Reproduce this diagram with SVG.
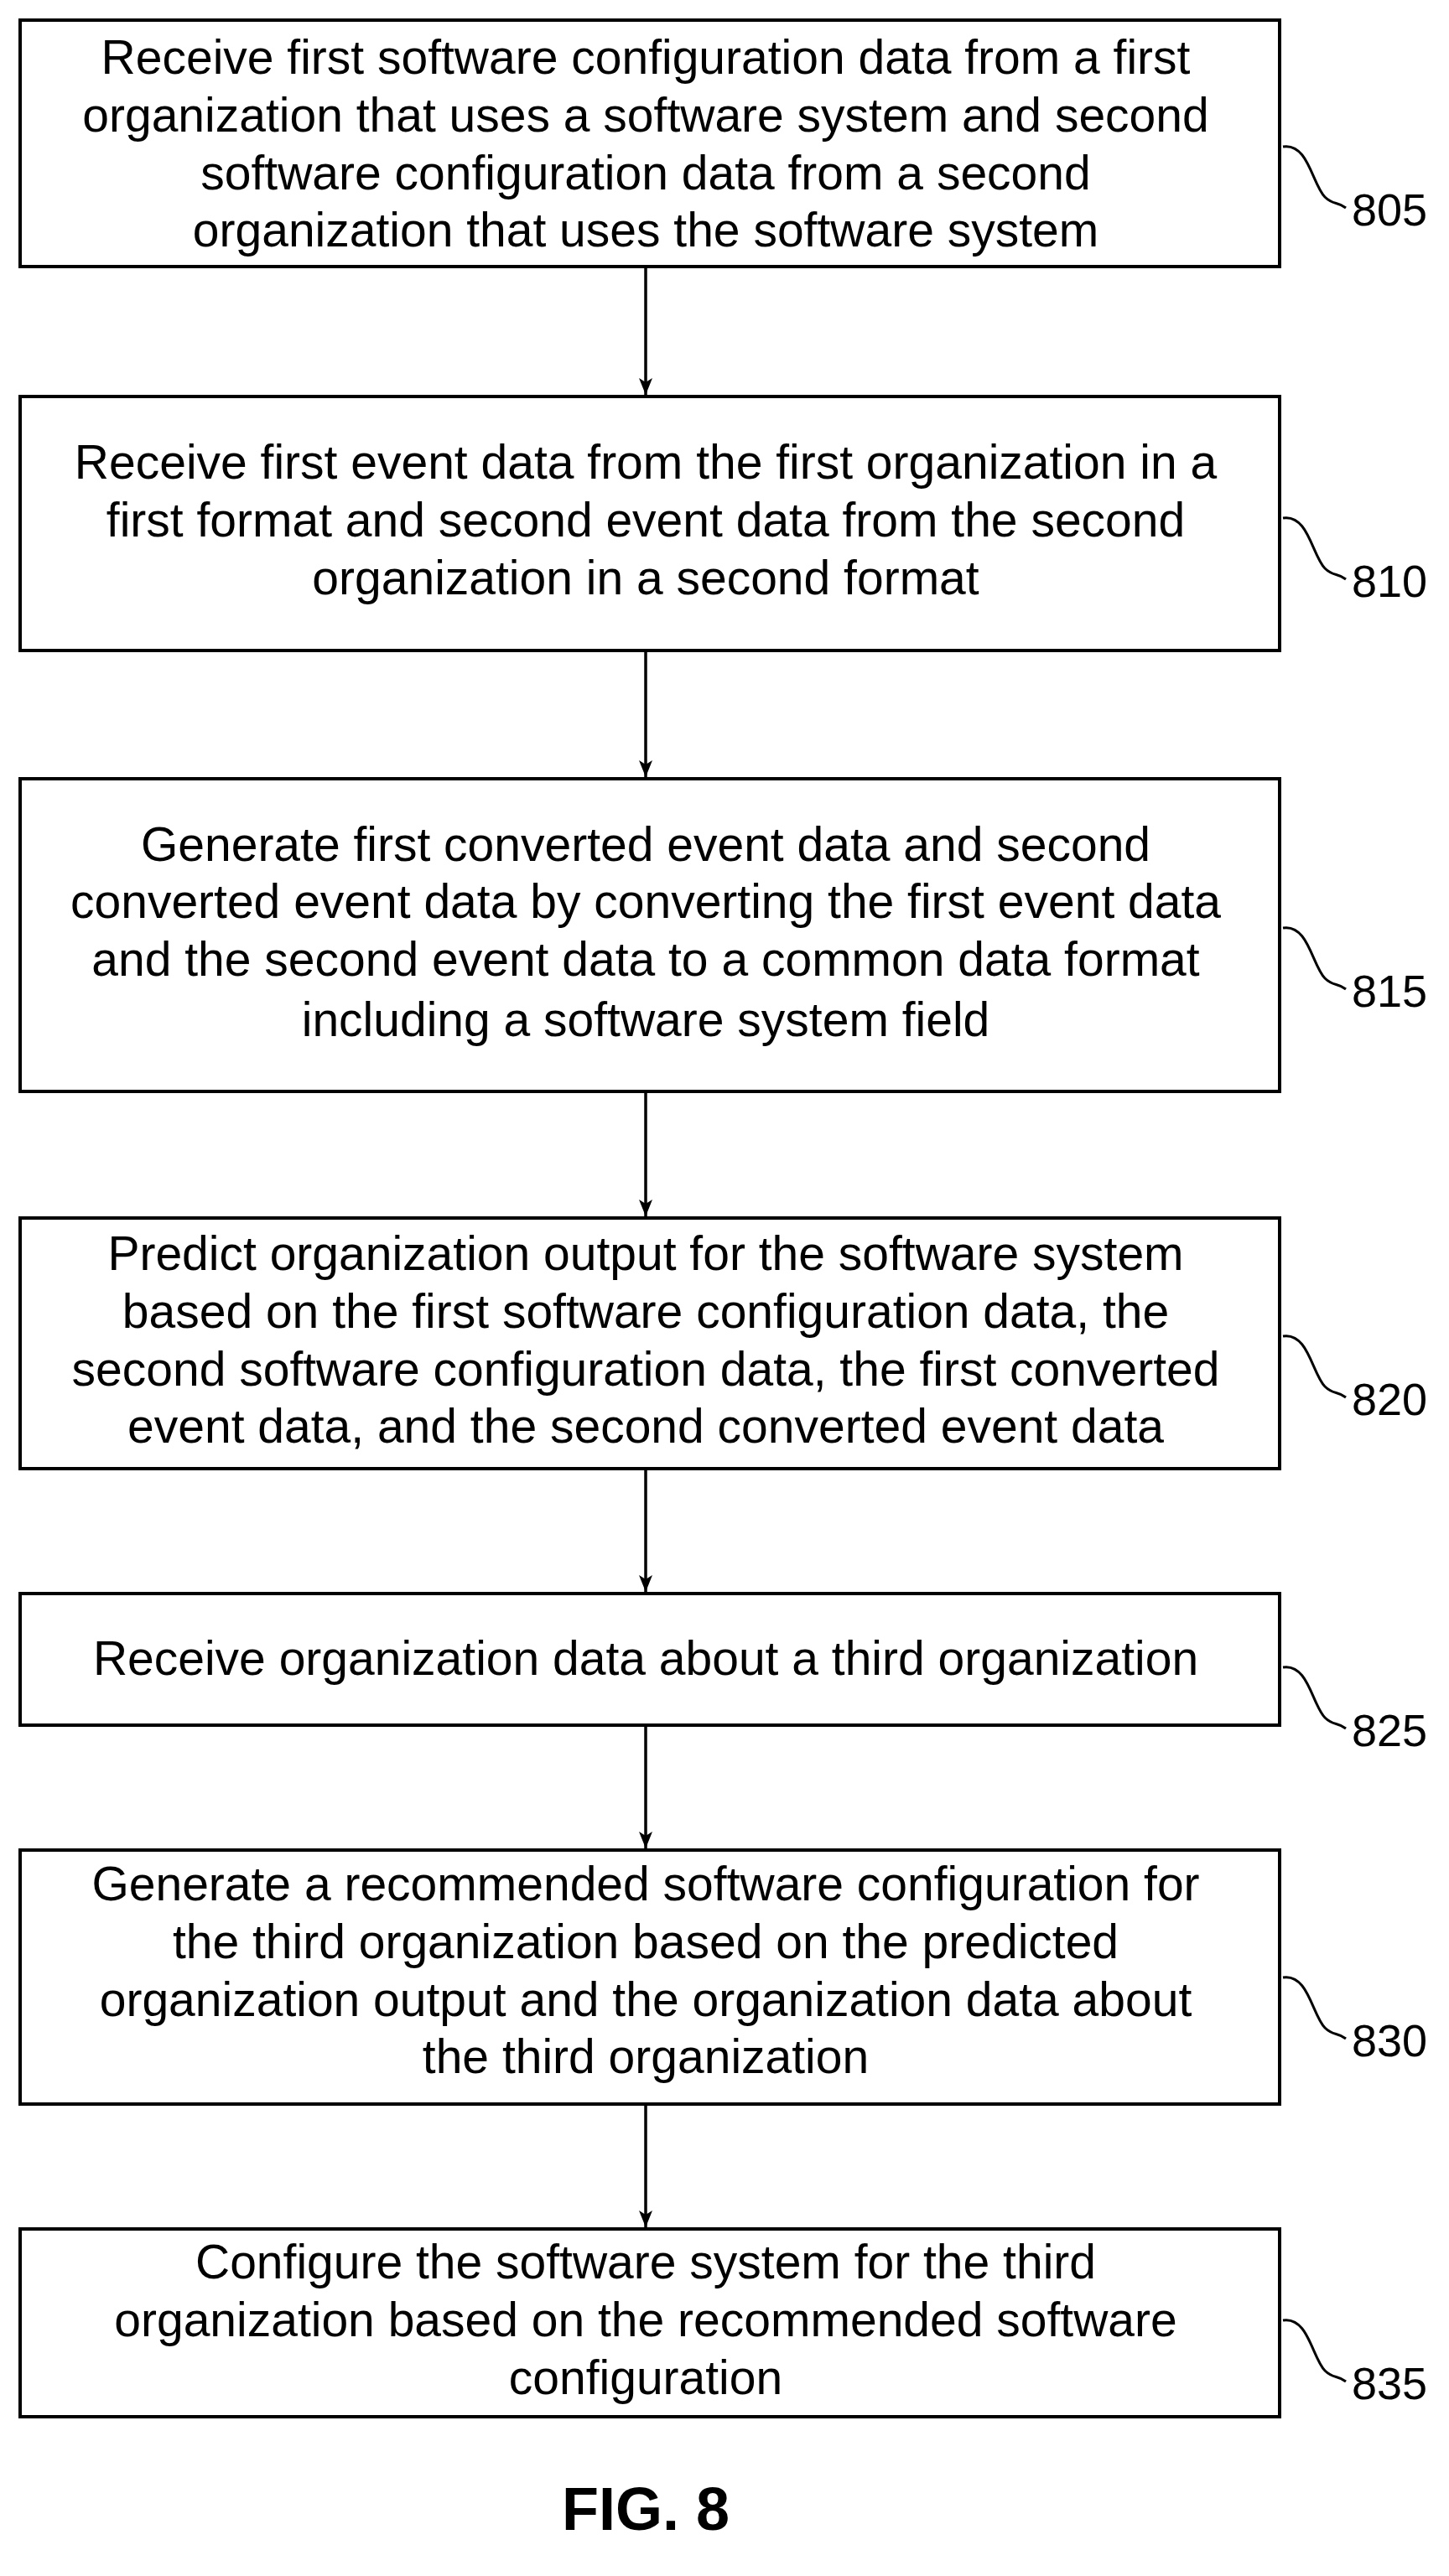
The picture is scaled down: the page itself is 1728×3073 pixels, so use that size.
<svg xmlns="http://www.w3.org/2000/svg" width="1728" height="3073" viewBox="0 0 1728 3073">
<style>
.box{fill:#fff;stroke:#000;stroke-width:4}
.t{font-family:"Liberation Sans",Arial,sans-serif;font-size:57px;text-anchor:middle;fill:#000}
.lb{font-family:"Liberation Sans",Arial,sans-serif;font-size:54px;fill:#000}
.c{stroke:#000;stroke-width:3.5;fill:none}
.sq{stroke:#000;stroke-width:3;fill:none}
</style>
<defs>
<marker id="ah" viewBox="0 0 20 20" refX="20" refY="10" markerWidth="20" markerHeight="20" markerUnits="userSpaceOnUse" orient="auto">
<path d="M0,2 L20,10 L0,18 L5,10 Z" fill="#000"/>
</marker>
</defs>
<rect width="1728" height="3073" fill="#fff"/>
<g id="connectors">
<line class="c" x1="770" y1="318" x2="770" y2="471" marker-end="url(#ah)"/>
<line class="c" x1="770" y1="776" x2="770" y2="927" marker-end="url(#ah)"/>
<line class="c" x1="770" y1="1302" x2="770" y2="1451" marker-end="url(#ah)"/>
<line class="c" x1="770" y1="1752" x2="770" y2="1899" marker-end="url(#ah)"/>
<line class="c" x1="770" y1="2058" x2="770" y2="2205" marker-end="url(#ah)"/>
<line class="c" x1="770" y1="2510" x2="770" y2="2657" marker-end="url(#ah)"/>
</g>
<g id="n805">
<rect class="box" x="24" y="24" width="1502" height="294"/>
<text class="t" x="770" y="88">Receive first software configuration data from a first</text>
<text class="t" x="770" y="157">organization that uses a software system and second</text>
<text class="t" x="770" y="226">software configuration data from a second</text>
<text class="t" x="770" y="294">organization that uses the software system</text>
<path class="sq" d="M1530,175 C1560,170 1565,220 1580,235 C1590,245 1595,240 1605,248"/>
<text class="lb" x="1612" y="269">805</text>
</g>
<g id="n810">
<rect class="box" x="24" y="473" width="1502" height="303"/>
<text class="t" x="770" y="571">Receive first event data from the first organization in a</text>
<text class="t" x="770" y="640">first format and second event data from the second</text>
<text class="t" x="770" y="709">organization in a second format</text>
<path class="sq" d="M1530,618 C1560,613 1565,663 1580,678 C1590,688 1595,683 1605,691"/>
<text class="lb" x="1612" y="712">810</text>
</g>
<g id="n815">
<rect class="box" x="24" y="929" width="1502" height="373"/>
<text class="t" x="770" y="1027">Generate first converted event data and second</text>
<text class="t" x="770" y="1095">converted event data by converting the first event data</text>
<text class="t" x="770" y="1164">and the second event data to a common data format</text>
<text class="t" x="770" y="1236">including a software system field</text>
<path class="sq" d="M1530,1107 C1560,1102 1565,1152 1580,1167 C1590,1177 1595,1172 1605,1180"/>
<text class="lb" x="1612" y="1201">815</text>
</g>
<g id="n820">
<rect class="box" x="24" y="1453" width="1502" height="299"/>
<text class="t" x="770" y="1515">Predict organization output for the software system</text>
<text class="t" x="770" y="1584">based on the first software configuration data, the</text>
<text class="t" x="770" y="1653">second software configuration data, the first converted</text>
<text class="t" x="770" y="1721">event data, and the second converted event data</text>
<path class="sq" d="M1530,1594 C1560,1589 1565,1639 1580,1654 C1590,1664 1595,1659 1605,1667"/>
<text class="lb" x="1612" y="1688">820</text>
</g>
<g id="n825">
<rect class="box" x="24" y="1901" width="1502" height="157"/>
<text class="t" x="770" y="1998">Receive organization data about a third organization</text>
<path class="sq" d="M1530,1989 C1560,1984 1565,2034 1580,2049 C1590,2059 1595,2054 1605,2062"/>
<text class="lb" x="1612" y="2083">825</text>
</g>
<g id="n830">
<rect class="box" x="24" y="2207" width="1502" height="303"/>
<text class="t" x="770" y="2267">Generate a recommended software configuration for</text>
<text class="t" x="770" y="2336">the third organization based on the predicted</text>
<text class="t" x="770" y="2405">organization output and the organization data about</text>
<text class="t" x="770" y="2473">the third organization</text>
<path class="sq" d="M1530,2359 C1560,2354 1565,2404 1580,2419 C1590,2429 1595,2424 1605,2432"/>
<text class="lb" x="1612" y="2453">830</text>
</g>
<g id="n835">
<rect class="box" x="24" y="2659" width="1502" height="224"/>
<text class="t" x="770" y="2718">Configure the software system for the third</text>
<text class="t" x="770" y="2787">organization based on the recommended software</text>
<text class="t" x="770" y="2856">configuration</text>
<path class="sq" d="M1530,2768 C1560,2763 1565,2813 1580,2828 C1590,2838 1595,2833 1605,2841"/>
<text class="lb" x="1612" y="2862">835</text>
</g>
<text x="770" y="3018" font-family="Liberation Sans,Arial,sans-serif" font-size="72" font-weight="bold" text-anchor="middle">FIG. 8</text>
</svg>
